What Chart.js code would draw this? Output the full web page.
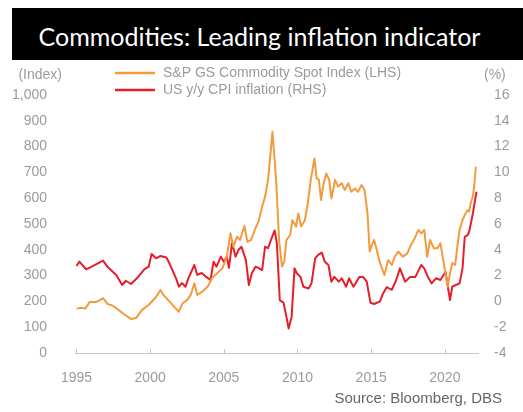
<!DOCTYPE html>
<html>
<head>
<meta charset="utf-8">
<script src="https://cdn.jsdelivr.net/npm/chart.js@4.4.1/dist/chart.umd.min.js"></script>
<style>
    html, body { margin: 0; padding: 0; background: #fff; }
    #wrap { position: relative; width: 523px; height: 412px; overflow: hidden; }
    #chart { position: absolute; left: 0; top: 0; }
    #title {
        position: absolute; left: 12px; top: 8px; width: 495px; height: 52px;
        padding-right: 16px;
        background: #000; color: #fff; font-family: Lato, "Open Sans", sans-serif;
        font-size: 25px; line-height: 56px; text-align: center; z-index: 2;
    }
    #source {
        position: absolute; right: 21px; top: 389px;
        font-family: "Liberation Sans", Arial, sans-serif; font-size: 15px; color: #666;
    }
</style>
</head>
<body>
<div id="wrap">
    <canvas id="chart" width="523" height="412"></canvas>
    <div id="title">Commodities: Leading inflation indicator</div>
    <div id="source">Source: Bloomberg, DBS</div>
</div>
<script>
// S&P GS Commodity Spot Index (left axis)
const commodityYears = [
    1995.0, 1995.3, 1995.6, 1995.9, 1996.35, 1996.6, 1996.8, 1997.1, 1997.4, 1997.7,
    1998.2, 1998.7, 1999.05, 1999.45, 1999.9, 2000.4, 2000.7, 2000.9, 2001.3, 2001.75,
    2001.95, 2002.2, 2002.5, 2002.75, 2003.0, 2003.2, 2003.55, 2003.9, 2004.2, 2004.55,
    2004.9, 2005.2, 2005.45, 2005.65, 2005.9, 2006.1, 2006.4, 2006.6, 2006.85, 2007.1,
    2007.35, 2007.6, 2007.8, 2008.0, 2008.15, 2008.3, 2008.45, 2008.55, 2008.75, 2008.95,
    2009.1, 2009.25, 2009.5, 2009.65, 2009.9, 2010.05, 2010.25, 2010.5, 2010.7, 2010.9,
    2011.15, 2011.3, 2011.45, 2011.6, 2011.75, 2011.95, 2012.15, 2012.3, 2012.55, 2012.75,
    2013.0, 2013.2, 2013.45, 2013.65, 2013.9, 2014.1, 2014.35, 2014.55, 2014.75, 2014.9,
    2015.05, 2015.2, 2015.35, 2015.6, 2015.9, 2016.15, 2016.4, 2016.6, 2016.85, 2017.15,
    2017.45, 2017.7, 2017.95, 2018.2, 2018.4, 2018.6, 2018.8, 2019.0, 2019.25, 2019.5,
    2019.7, 2020.0, 2020.2, 2020.35, 2020.5, 2020.7, 2020.85, 2021.0, 2021.2, 2021.35,
    2021.55, 2021.65, 2021.75, 2021.9, 2022.0, 2022.1
];
const commodityIndex = [
    172, 175, 172, 198, 198, 205, 213, 190, 185, 174,
    151, 132, 136, 167, 186, 217, 244, 225, 200, 172,
    160, 193, 205, 225, 270, 225, 238, 257, 290, 309,
    328, 373, 464, 412, 451, 438, 492, 431, 438, 477,
    509, 567, 606, 671, 761, 858, 748, 671, 438, 335,
    354, 438, 457, 515, 490, 541, 490, 515, 580, 671,
    754, 677, 671, 593, 651, 696, 671, 600, 671, 645,
    658, 632, 658, 625, 638, 625, 651, 632, 541, 393,
    419, 438, 406, 348, 302, 360, 341, 373, 393, 373,
    386, 419, 444, 477, 464, 477, 373, 438, 406, 406,
    425, 322, 257, 309, 348, 341, 412, 477, 515, 535,
    554, 548, 580, 606, 651, 722
];

// US y/y CPI inflation, % (right axis)
const cpiYears = [
    1995.0, 1995.2, 1995.65, 1996.1, 1996.8, 1997.1, 1997.7, 1998.1, 1998.35, 1998.7,
    1999.1, 1999.6, 1999.9, 2000.1, 2000.4, 2000.7, 2001.1, 2001.3, 2001.75, 2001.95,
    2002.15, 2002.4, 2002.6, 2003.0, 2003.2, 2003.5, 2003.8, 2004.1, 2004.3, 2004.5,
    2004.8, 2005.0, 2005.2, 2005.35, 2005.55, 2005.8, 2006.0, 2006.2, 2006.5, 2006.7,
    2006.9, 2007.15, 2007.35, 2007.6, 2007.8, 2008.0, 2008.2, 2008.45, 2008.6, 2008.8,
    2009.05, 2009.25, 2009.4, 2009.6, 2009.8, 2009.95, 2010.2, 2010.4, 2010.75, 2010.95,
    2011.2, 2011.4, 2011.65, 2011.85, 2012.1, 2012.3, 2012.5, 2012.8, 2013.0, 2013.3,
    2013.5, 2013.8, 2014.0, 2014.2, 2014.45, 2014.7, 2014.95, 2015.2, 2015.6, 2015.8,
    2016.05, 2016.4, 2016.7, 2016.95, 2017.3, 2017.65, 2018.0, 2018.4, 2018.6, 2018.85,
    2019.1, 2019.4, 2019.7, 2020.05, 2020.2, 2020.35, 2020.5, 2020.75, 2021.0, 2021.2,
    2021.35, 2021.55, 2021.65, 2021.9, 2022.0, 2022.15
];
const cpiInflation = [
    2.74, 3.08, 2.49, 2.74, 3.16, 2.69, 2.05, 1.27, 1.6, 1.35,
    1.79, 2.49, 2.69, 3.67, 3.34, 3.52, 3.4, 2.97, 1.8, 1.14,
    1.42, 1.14, 1.8, 2.82, 2.05, 2.2, 1.9, 1.66, 3.08, 2.69,
    3.47, 3.08, 3.47, 2.6, 4.5, 3.47, 4.0, 4.24, 3.2, 1.27,
    2.18, 2.69, 2.6, 2.43, 4.24, 4.13, 4.76, 5.5, 4.5, 0.1,
    -0.1, -1.2, -2.1, -1.2, 2.56, 2.18, 1.9, 1.14, 1.0, 1.4,
    3.34, 3.6, 3.78, 3.08, 2.82, 1.53, 1.9, 1.53, 1.79, 1.14,
    1.79, 1.14, 1.53, 1.9, 1.9, 1.53, -0.1, -0.2, 0.0, 0.6,
    1.1, 0.9, 1.66, 2.56, 1.53, 1.9, 1.9, 2.82, 2.56, 1.9,
    1.4, 1.79, 1.66, 2.3, 1.14, 0.1, 1.14, 1.27, 1.4, 2.56,
    5.0, 5.15, 5.4, 6.8, 7.5, 8.5
];

const yearTicks = [1995, 2000, 2005, 2010, 2015, 2020];

const ORANGE = '#F39B3C';
const RED = '#E41E2B';
const LABEL_GREY = '#9b9b9b';
const AXIS_FONT = { family: '"Liberation Sans", Arial, sans-serif', size: 14 };

function toPoints(xs, ys) {
    return xs.map((x, i) => ({ x: x, y: ys[i] }));
}

// Legend, unit captions and upward tick marks on the year axis
const decorations = {
    id: 'decorations',
    afterDraw(chart) {
        const ctx = chart.ctx;
        const area = chart.chartArea;
        ctx.save();
        ctx.font = '14px "Liberation Sans", Arial, sans-serif';
        ctx.textBaseline = 'middle';

        chart.data.datasets.forEach((ds, i) => {
            const y = 73 + i * 17;
            ctx.strokeStyle = ds.borderColor;
            ctx.lineWidth = 2.5;
            ctx.beginPath();
            ctx.moveTo(115, y);
            ctx.lineTo(155, y);
            ctx.stroke();
            ctx.fillStyle = LABEL_GREY;
            ctx.textAlign = 'left';
            ctx.fillText(ds.label, 163, y);
        });

        ctx.fillStyle = LABEL_GREY;
        ctx.textAlign = 'right';
        ctx.fillText('(Index)', 62, 75);
        ctx.textAlign = 'left';
        ctx.fillText('(%)', 484, 75);

        const xs = chart.scales.x;
        ctx.strokeStyle = '#c8c8c8';
        ctx.lineWidth = 1;
        yearTicks.forEach(yr => {
            const px = Math.round(xs.getPixelForValue(yr)) + 0.5;
            ctx.beginPath();
            ctx.moveTo(px, area.bottom);
            ctx.lineTo(px, area.bottom - 4);
            ctx.stroke();
        });
        ctx.restore();
    }
};

new Chart(document.getElementById('chart'), {
    type: 'line',
    data: {
        datasets: [
            {
                label: 'S&P GS Commodity Spot Index (LHS)',
                data: toPoints(commodityYears, commodityIndex),
                borderColor: ORANGE,
                borderWidth: 2,
                yAxisID: 'y'
            },
            {
                label: 'US y/y CPI inflation (RHS)',
                data: toPoints(cpiYears, cpiInflation),
                borderColor: RED,
                borderWidth: 2,
                yAxisID: 'y1'
            }
        ]
    },
    options: {
        responsive: false,
        animation: false,
        elements: {
            point: { radius: 0 },
            line: { tension: 0, borderJoinStyle: 'round' }
        },
        layout: { padding: { top: 95, left: 0, right: 0, bottom: 0 } },
        plugins: {
            legend: { display: false },
            tooltip: { enabled: false }
        },
        scales: {
            x: {
                type: 'linear',
                min: 1994.9,
                max: 2022.25,
                grid: { display: false },
                border: { display: true, color: '#c8c8c8', width: 1 },
                afterBuildTicks: scale => {
                    scale.ticks = yearTicks.map(v => ({ value: v }));
                },
                afterFit: scale => { scale.height = 59; },
                ticks: {
                    color: LABEL_GREY,
                    font: AXIS_FONT,
                    padding: 9,
                    maxRotation: 0,
                    callback: v => String(v)
                }
            },
            y: {
                position: 'left',
                min: 0,
                max: 1000,
                grid: { display: false },
                border: { display: false },
                afterFit: scale => { scale.width = 75; },
                ticks: {
                    stepSize: 100,
                    color: LABEL_GREY,
                    font: AXIS_FONT,
                    padding: 20
                }
            },
            y1: {
                position: 'right',
                min: -4,
                max: 16,
                grid: { display: false },
                border: { display: false },
                afterFit: scale => { scale.width = 45; },
                ticks: {
                    stepSize: 2,
                    color: LABEL_GREY,
                    font: AXIS_FONT,
                    padding: 8
                }
            }
        }
    },
    plugins: [decorations]
});
</script>
</body>
</html>
